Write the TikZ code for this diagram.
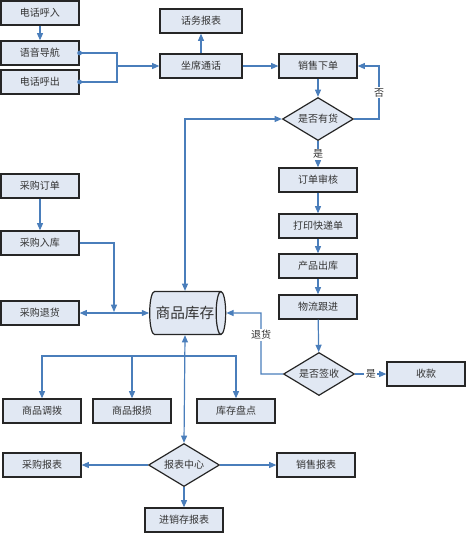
\documentclass[tikz,border=0pt]{standalone}
\usepackage{fontspec}
\newfontfamily\cjk{Noto Sans CJK SC}
\usetikzlibrary{shapes.geometric,arrows.meta}
\definecolor{boxfill}{HTML}{E1E8F3}
\definecolor{linec}{HTML}{4A7EBB}
\definecolor{txt}{HTML}{333333}
\begin{document}
\begin{tikzpicture}[x=0.75pt,y=-0.75pt,
  txtfont/.style={font=\cjk\fontsize{7.5pt}{9pt}\selectfont, text=txt},
  box/.style={draw=black!85, line width=0.9pt, fill=boxfill, minimum width=58.5pt, minimum height=18pt, inner sep=0pt, txtfont},
  wbox/.style={box, minimum width=61.5pt},
  dia/.style={diamond, draw=black!85, line width=0.9pt, fill=boxfill, minimum width=53.25pt, minimum height=32.25pt, inner sep=0pt, aspect=1.6, txtfont},
  cyl/.style={cylinder, draw=black!85, line width=0.9pt, fill=boxfill, minimum width=32.25pt, minimum height=57pt, shape aspect=0.7, inner sep=0pt, font=\cjk\fontsize{11pt}{13pt}\selectfont, text=txt},
  arr/.style={draw=linec, line width=0.9pt, -{Triangle[length=5.5pt,width=4.5pt]}},
  darr/.style={draw=linec, line width=0.9pt, {Triangle[length=5.5pt,width=4.5pt]}-{Triangle[length=5.5pt,width=4.5pt]}},
  plain/.style={draw=linec, line width=0.9pt},
  lab/.style={fill=white, inner sep=1pt, txtfont}
]
\useasboundingbox (0,0) rectangle (466,533);

% nodes
\node[box] (hr) at (40,13) {电话呼入};
\node[box] (yy) at (40,53) {语音导航};
\node[box] (hc) at (40,82) {电话呼出};
\node[wbox] (hwbb) at (201,21) {话务报表};
\node[wbox] (zx) at (201,66) {坐席通话};
\node[box] (xs) at (318,66) {销售下单};
\node[dia] (yh) at (318,119) {是否有货};
\node[box] (dd) at (318,180) {订单审核};
\node[box] (dy) at (318,226) {打印快递单};
\node[box] (cp) at (318,266) {产品出库};
\node[box] (wl) at (318,307) {物流跟进};
\node[dia] (qs) at (319,374) {是否签收};
\node[box] (sk) at (426,374) {收款};
\node[box] (cgdd) at (40,186) {采购订单};
\node[box] (cgrk) at (40,243) {采购入库};
\node[box] (cgth) at (40,313) {采购退货};
\node[cyl] (kc) at (185,313) {商品库存};
\node[box] (db) at (42,411) {商品调拨};
\node[box] (bs) at (132,411) {商品报损};
\node[box] (pd) at (236,411) {库存盘点};
\node[dia] (bb) at (184,465) {报表中心};
\node[box] (cgbb) at (42,465) {采购报表};
\node[box] (xsbb) at (316,465) {销售报表};
\node[box] (jxc) at (184,520) {进销存报表};

% junction coordinates
\coordinate (j1) at (117,66);
\coordinate (n1) at (379,119);
\coordinate (n2) at (379,66);
\coordinate (t1) at (261,374);
\coordinate (t2) at (261,313);
\coordinate (j2) at (114,312);
\coordinate (br) at (184,356);

% connectors
\draw[arr] (hr) -- (yy);
\draw[plain] (yy.east) -| (j1);
\draw[plain] (hc.east) -| (j1);
\fill[linec] (yy.east) circle[radius=1.8pt];
\fill[linec] (hc.east) circle[radius=1.8pt];
\draw[arr] (j1) -- (zx.west);
\draw[arr] (zx) -- (hwbb);
\draw[arr] (zx) -- (xs);
\draw[arr] (xs) -- (yh);
\draw[arr] (yh.east) -- (n1) -- node[lab]{否} (n2) -- (xs.east);
\draw[arr] (yh) -- node[lab]{是} (dd);
\draw[arr] (dd) -- (dy);
\draw[arr] (dy) -- (cp);
\draw[arr] (cp) -- (wl);
\draw[arr] (wl) -- (qs);
\draw[arr] (qs) -- node[lab]{是} (sk);
\draw[arr] (qs.west) -- (t1) -- node[lab,pos=0.64]{退货} (t2) -- (kc.east);
\draw[darr] (yh.west) -| (kc.north);
\draw[arr] (cgdd) -- (cgrk);
\draw[arr] (cgrk.east) -| (j2);
\draw[darr] (cgth.east) -- (kc.west);
\draw[darr] (kc.south) -- (bb.north);
\draw[arr] (br) -| (db.north);
\draw[arr] (br) -| (pd.north);
\draw[arr] (bs.north |- br) -- (bs.north);
\draw[arr] (bb) -- (cgbb);
\draw[arr] (bb) -- (xsbb);
\draw[arr] (bb) -- (jxc);
\end{tikzpicture}
\end{document}
